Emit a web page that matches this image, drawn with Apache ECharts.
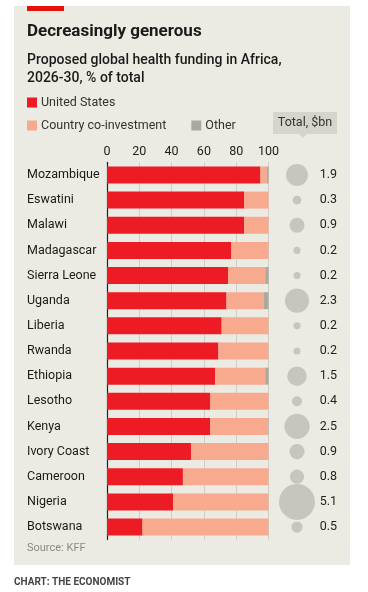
<!DOCTYPE html>
<html><head><meta charset="utf-8">
<script src="https://cdn.jsdelivr.net/npm/echarts@6/dist/echarts.min.js"></script>
<style>html,body{margin:0;padding:0;background:#fff}#c{width:368px;height:592px}</style>
</head><body><div id="c"></div>
<script>
const countries = ['Mozambique','Eswatini','Malawi','Madagascar','Sierra Leone','Uganda','Liberia','Rwanda','Ethiopia','Lesotho','Kenya','Ivory Coast','Cameroon','Nigeria','Botswana'];
const unitedStates = [95, 85, 85, 77, 75, 74, 71, 69, 67, 64, 64, 52, 47, 41, 22];
const coInvestment = [4, 15, 15, 23, 23, 23, 29, 31, 31, 36, 35.5, 48, 53, 59, 78];
const other = [1, 0, 0, 0, 2, 3, 0, 0, 2, 0, 0.5, 0, 0, 0, 0];
const totals = [1.9, 0.3, 0.9, 0.2, 0.2, 2.3, 0.2, 0.2, 1.5, 0.4, 2.5, 0.9, 0.8, 5.1, 0.5];
const xTicks = [0, 20, 40, 60, 80, 100];

const FONT = 'Roboto';
const RED = '#ec1b24', SALMON = '#f8aa8e', GREY = '#a9a9a1';
const maxTotal = Math.max(...totals);
const chart = echarts.init(document.getElementById('c'), null, {renderer: 'canvas'});
const gridTop = 162.4, gridBottom = 592 - 539.6;

chart.setOption({
  animation: false,
  textStyle: {fontFamily: FONT},
  graphic: [
    {type: 'rect', shape: {x: 14, y: 6, width: 336, height: 559}, style: {fill: '#ecebe3'}, z: -10},
    {type: 'rect', shape: {x: 27, y: 6, width: 37, height: 5}, style: {fill: '#e3120b'}},
    {type: 'text', left: 27, top: 23, style: {text: 'Decreasingly generous', font: 'bold 17px Roboto', fill: '#1a1a1a'}},
    {type: 'text', left: 27, top: 51, style: {text: 'Proposed global health funding in Africa,\n2026-30, % of total', font: '500 14px Roboto', lineHeight: 18, fill: '#1a1a1a'}},
    {type: 'rect', shape: {x: 273, y: 112, width: 64, height: 22}, style: {fill: '#d5d4cd'}},
    {type: 'polygon', shape: {points: [[299, 134], [307, 134], [303, 138]]}, style: {fill: '#d5d4cd'}},
    {type: 'text', x: 305, y: 123, style: {text: 'Total, $bn', font: '12.5px Roboto', fill: '#333', align: 'center', verticalAlign: 'middle'}},
    {type: 'text', left: 27, top: 543, style: {text: 'Source: KFF', font: '11px Roboto', fill: '#8a8a85'}},
    {type: 'text', left: 14, top: 577, style: {text: 'CHART: THE ECONOMIST', font: 'bold 10px Roboto', fill: '#444'}}
  ],
  legend: [
    {data: ['United States'], left: 27, top: 96, icon: 'rect', itemWidth: 10, itemHeight: 10, itemGap: 0, padding: 0,
     textStyle: {fontSize: 12.5, color: '#333', fontFamily: FONT, padding: [0, 0, 0, -1]}, selectedMode: false},
    {data: ['Country co-investment', 'Other'], left: 27, top: 119, icon: 'rect', itemWidth: 10, itemHeight: 10, itemGap: 25, padding: 0,
     textStyle: {fontSize: 12.5, color: '#333', fontFamily: FONT, padding: [0, 0, 0, -1]}, selectedMode: false}
  ],
  grid: [
    {left: 107, width: 161.5, top: gridTop, bottom: gridBottom, containLabel: false},
    {left: 281, width: 32, top: gridTop, bottom: gridBottom, containLabel: false}
  ],
  xAxis: [
    {type: 'value', gridIndex: 0, position: 'top', min: xTicks[0], max: xTicks[xTicks.length - 1], interval: 20,
     axisLine: {show: false}, axisTick: {show: false},
     axisLabel: {fontSize: 12.5, color: '#222', margin: 4, fontFamily: FONT},
     splitLine: {show: true, lineStyle: {color: '#cfcdc5', width: 1}}},
    {type: 'category', gridIndex: 1, data: ['total'], show: false}
  ],
  yAxis: [
    {type: 'category', gridIndex: 0, data: countries, inverse: true,
     axisLine: {show: true, onZero: false, lineStyle: {color: '#222', width: 1.2}}, axisTick: {show: false},
     axisLabel: {show: false}},
    {type: 'category', gridIndex: 1, data: countries, inverse: true, position: 'right',
     axisLine: {show: false}, axisTick: {show: false},
     axisLabel: {align: 'right', margin: 24, fontSize: 12.5, color: '#222', fontFamily: FONT,
       formatter: (v, i) => totals[i].toFixed(1)}},
    {type: 'category', gridIndex: 0, data: countries, inverse: true, position: 'left',
     axisLine: {show: false}, axisTick: {show: false},
     axisLabel: {align: 'left', margin: 80, fontSize: 12.5, color: '#1a1a1a', fontFamily: FONT}}
  ],
  series: [
    {name: 'United States', type: 'bar', stack: 's', data: unitedStates, barWidth: 17, itemStyle: {color: RED}, xAxisIndex: 0, yAxisIndex: 0},
    {name: 'Country co-investment', type: 'bar', stack: 's', data: coInvestment, barWidth: 17, itemStyle: {color: SALMON}, xAxisIndex: 0, yAxisIndex: 0},
    {name: 'Other', type: 'bar', stack: 's', data: other, barWidth: 17, itemStyle: {color: GREY}, xAxisIndex: 0, yAxisIndex: 0},
    {name: 'Total', type: 'scatter', xAxisIndex: 1, yAxisIndex: 1,
     data: totals.map((t, i) => ['total', countries[i], t]),
     symbolSize: v => 36 * Math.sqrt(v[2] / maxTotal),
     itemStyle: {color: '#c6c6bf', opacity: 1}}
  ]
});
</script></body></html>
